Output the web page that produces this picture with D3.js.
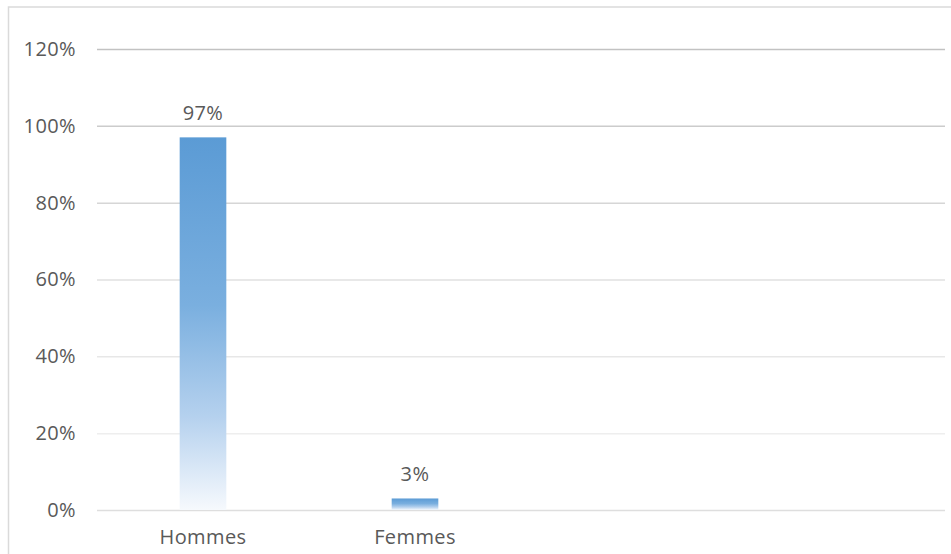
<!DOCTYPE html>
<html>
<head>
<meta charset="utf-8">
<script src="https://cdn.jsdelivr.net/npm/d3@7"></script>
<style>
  body { margin: 0; background: #fff; }
  svg { display: block; }
  text { font-family: "Open Sans", sans-serif; fill: #595959; letter-spacing: 0.4px; }
</style>
</head>
<body>
<svg></svg>
<script>
let width = 951, height = 554;

let svg = d3.select("svg")
    .attr("width", width)
    .attr("height", height);

// data
let categories = ["Hommes", "Femmes"];
let values = [97, 3];
let slots = 4; // axis has room for 4 categories, only 2 used
let yTicks = [0, 20, 40, 60, 80, 100, 120];

let margin = { left: 97, right: 6, top: 49, bottom: 44 };

let x = d3.scaleBand()
    .domain(d3.range(slots))
    .range([margin.left, width - margin.right])
    .paddingInner(0.78)
    .paddingOuter(0.39);

let y = d3.scaleLinear()
    .domain([0, 120])
    .range([height - margin.bottom, margin.top]);

let defs = svg.append("defs");

// bar fill fades to white at the bottom
let grad = defs.append("linearGradient")
    .attr("id", "barGrad")
    .attr("x1", 0).attr("y1", 0)
    .attr("x2", 0).attr("y2", 1);
grad.append("stop").attr("offset", "0%").attr("stop-color", "#5b9bd5");
grad.append("stop").attr("offset", "45%").attr("stop-color", "#7aafdf");
grad.append("stop").attr("offset", "75%").attr("stop-color", "#b5d1ee");
grad.append("stop").attr("offset", "100%").attr("stop-color", "#f6f9fd");

// chart area border (runs off the page right and bottom)
svg.append("rect")
    .attr("x", 8.5)
    .attr("y", 7)
    .attr("width", width + 20)
    .attr("height", height + 20)
    .attr("fill", "none")
    .attr("stroke", "#dadada")
    .attr("stroke-width", 1.5);

// gridlines, a bit darker near the top as in the picture
let gridColor = d3.scaleLinear()
    .domain([0, 20, 60, 120])
    .range(["#dedede", "#eeeeee", "#e0e0e0", "#c2c2c2"]);

let yAxis = svg.append("g")
    .attr("transform", "translate(" + margin.left + ",0)")
    .call(d3.axisLeft(y)
        .tickValues(yTicks)
        .tickSize(-(width - margin.left - margin.right))
        .tickPadding(21)
        .tickFormat(d => d + "%"));

yAxis.select(".domain").remove();
yAxis.selectAll(".tick line")
    .attr("stroke", d => gridColor(d))
    .attr("stroke-width", 1.5);
yAxis.selectAll(".tick text")
    .style("font-size", "20px")
    .style("fill", "#595959");

// x axis labels
let xAxis = svg.append("g")
    .attr("transform", "translate(0," + (height - margin.bottom) + ")")
    .call(d3.axisBottom(x)
        .tickSize(0)
        .tickPadding(20)
        .tickFormat(i => categories[i] || ""));

xAxis.select(".domain").remove();
xAxis.selectAll(".tick text")
    .style("font-size", "20px")
    .style("fill", "#595959");

// bars
svg.append("g")
    .selectAll("rect")
    .data(values)
    .enter()
    .append("rect")
    .attr("x", (d, i) => x(i))
    .attr("y", d => y(d))
    .attr("width", x.bandwidth())
    .attr("height", d => y(0) - y(d))
    .attr("fill", "url(#barGrad)");

// value labels
svg.append("g")
    .selectAll("text")
    .data(values)
    .enter()
    .append("text")
    .attr("x", (d, i) => x(i) + x.bandwidth() / 2)
    .attr("y", d => y(d) - 17)
    .attr("text-anchor", "middle")
    .style("font-size", "20px")
    .text(d => d + "%");
</script>
</body>
</html>
